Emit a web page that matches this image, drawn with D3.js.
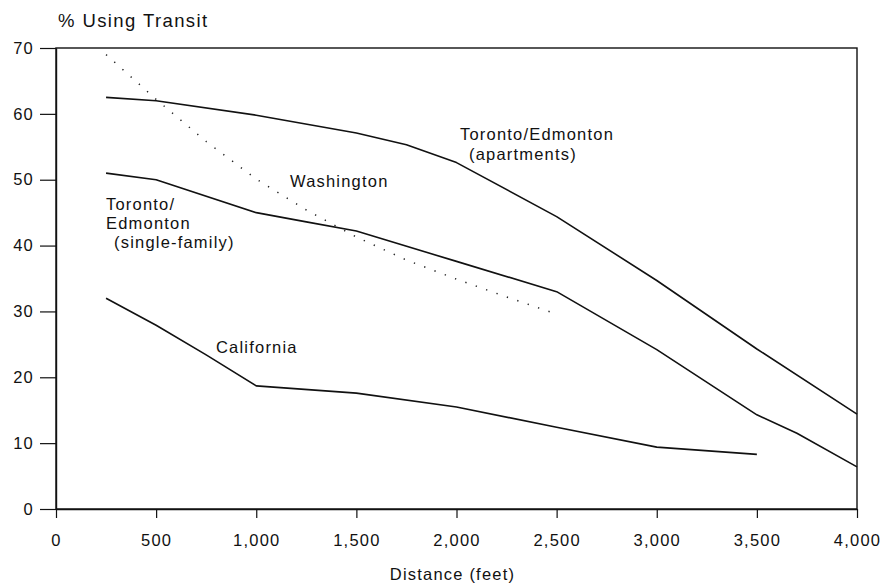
<!DOCTYPE html>
<html>
<head>
<meta charset="utf-8">
<script src="https://cdn.jsdelivr.net/npm/d3@7"></script>
<style>
  html, body { margin: 0; padding: 0; background: #fff; }
  svg text { font-family: "Liberation Sans", Arial, Helvetica, sans-serif; fill: #111; }
</style>
</head>
<body>
<svg id="chart" width="882" height="584"></svg>
<script>
// ---- Data ----
const xTicks = [0, 500, 1000, 1500, 2000, 2500, 3000, 3500, 4000];
const yTicks = [0, 10, 20, 30, 40, 50, 60, 70];

const apartmentsX = [250, 500, 1000, 1500, 1750, 2000, 2500, 3000, 3500, 4000];
const apartmentsY = [62.5, 62.0, 59.8, 57.1, 55.3, 52.6, 44.4, 34.7, 24.3, 14.4];

const singleFamilyX = [250, 500, 1000, 1250, 1500, 2000, 2500, 3000, 3500, 3700, 4000];
const singleFamilyY = [51.0, 50.0, 45.0, 43.6, 42.2, 37.6, 33.0, 24.2, 14.3, 11.5, 6.4];

const washingtonX = [250, 500, 750, 1000, 1250, 1500, 1750, 2000, 2250, 2500];
const washingtonY = [69.0, 62.2, 55.8, 50.1, 45.4, 41.3, 37.8, 34.9, 32.2, 29.6];

const californiaX = [250, 500, 750, 1000, 1500, 2000, 2500, 3000, 3500];
const californiaY = [32.0, 27.9, 23.4, 18.7, 17.6, 15.5, 12.4, 9.4, 8.3];

// ---- Layout ----
const svg = d3.select("#chart");
const mLeft = 56, mRight = 857, mTop = 48, mBottom = 509;

const x = d3.scaleLinear().domain([0, 4000]).range([mLeft, mRight]);
const y = d3.scaleLinear().domain([0, 70]).range([mBottom, mTop]);

// frame
svg.append("rect")
  .attr("x", mLeft).attr("y", mTop)
  .attr("width", mRight - mLeft).attr("height", mBottom - mTop)
  .attr("fill", "none").attr("stroke", "#111").attr("stroke-width", 1.4);

// axes
const fmt = d3.format(",");
const xAxis = svg.append("g")
  .attr("transform", `translate(0,${mBottom})`)
  .call(d3.axisBottom(x).tickValues(xTicks).tickFormat(fmt).tickSize(9).tickSizeOuter(0).tickPadding(16));
const yAxis = svg.append("g")
  .attr("transform", `translate(${mLeft},0)`)
  .call(d3.axisLeft(y).tickValues(yTicks).tickSize(16).tickSizeOuter(0).tickPadding(6));

[xAxis, yAxis].forEach(g => {
  g.select(".domain").attr("stroke", "#111").attr("stroke-width", 1.4);
  g.selectAll(".tick line").attr("stroke", "#111").attr("stroke-width", 1.2);
  g.selectAll(".tick text")
    .attr("fill", "#111")
    .style("font-family", '"Liberation Sans", Arial, sans-serif')
    .style("font-size", "16.5px")
    .style("letter-spacing", "1.2px");
});

// lines
const line = d3.line().x(d => x(d[0])).y(d => y(d[1]));
const zip = (xs, ys) => xs.map((v, i) => [v, ys[i]]);

const solid = [
  zip(apartmentsX, apartmentsY),
  zip(singleFamilyX, singleFamilyY),
  zip(californiaX, californiaY)
];
solid.forEach(pts => {
  svg.append("path")
    .attr("d", line(pts))
    .attr("fill", "none")
    .attr("stroke", "#111")
    .attr("stroke-width", 1.6)
    .attr("stroke-linejoin", "round");
});

svg.append("path")
  .attr("d", line(zip(washingtonX, washingtonY)))
  .attr("fill", "none")
  .attr("stroke", "#222")
  .attr("stroke-width", 1.5)
  .attr("stroke-dasharray", "1.3,9.7");

// text labels
function label(txt, px, py, size, ls) {
  svg.append("text")
    .attr("x", px).attr("y", py)
    .style("font-size", size + "px")
    .style("letter-spacing", ls + "px")
    .text(txt);
}
label("% Using Transit", 58, 27, 18.5, 1.4);
label("Toronto/Edmonton", 460, 140, 16.5, 1.2);
label("(apartments)", 469, 160, 16.5, 1.2);
label("Washington", 290, 187, 16.5, 1.2);
label("Toronto/", 106, 210, 16.5, 1.2);
label("Edmonton", 106, 229, 16.5, 1.2);
label("(single-family)", 114, 248, 16.5, 1.2);
label("California", 216, 353, 16.5, 1.2);

svg.append("text")
  .attr("x", (mLeft + mRight) / 2 - 4)
  .attr("y", 580)
  .attr("text-anchor", "middle")
  .style("font-size", "16.5px")
  .style("letter-spacing", "1.2px")
  .text("Distance (feet)");
</script>
</body>
</html>
